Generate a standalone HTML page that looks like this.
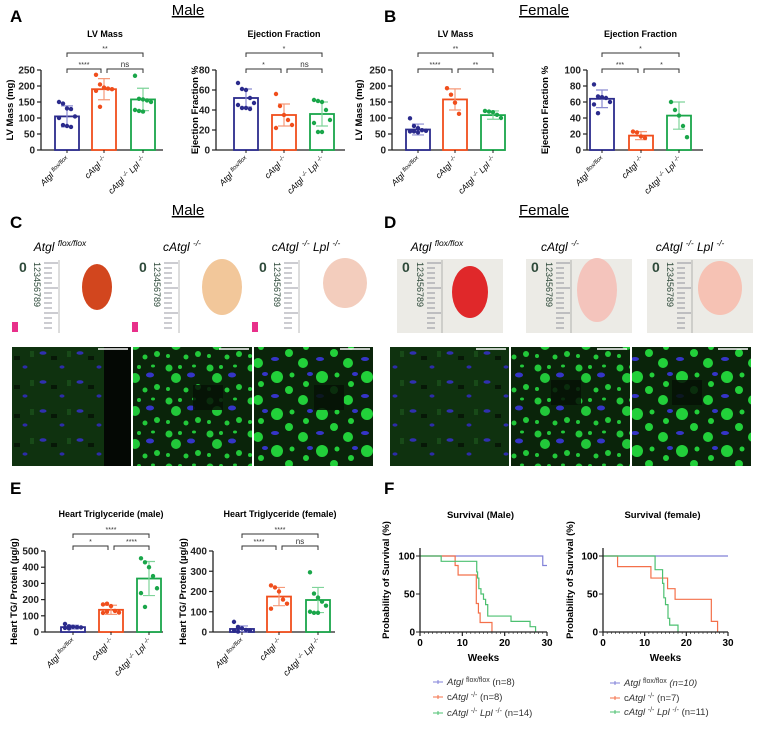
<!DOCTYPE html>
<html><head><meta charset="utf-8"><style>
html,body{margin:0;padding:0;background:#fff;}
svg{display:block;font-family:"Liberation Sans",Arial,sans-serif;}
</style></head><body>
<svg id="fig" width="759" height="729" viewBox="0 0 759 729" xmlns="http://www.w3.org/2000/svg">
<defs>
<pattern id="fl1" width="37" height="29" patternUnits="userSpaceOnUse"><rect width="37" height="29" fill="#0f320f"/><ellipse cx="6" cy="5" rx="3.5" ry="1.8" fill="#3030b0"/><ellipse cx="25" cy="19" rx="2.5" ry="1.6" fill="#2c2ca8"/><rect x="14" y="8" width="6" height="4" fill="#071807"/><rect x="30" y="3" width="4" height="6" fill="#184a18"/></pattern>
<pattern id="fl2" width="41" height="33" patternUnits="userSpaceOnUse"><rect width="41" height="33" fill="#0a240a"/><circle cx="5" cy="5" r="3.5" fill="#22c83a"/><circle cx="16" cy="4" r="2" fill="#22c83a"/><circle cx="12" cy="15" r="5" fill="#22c83a"/><ellipse cx="27" cy="12" rx="4" ry="2.5" fill="#3535c8"/><circle cx="34" cy="24" r="3" fill="#22c83a"/><circle cx="22" cy="27" r="2.5" fill="#22c83a"/><circle cx="4" cy="26" r="2" fill="#22c83a"/><ellipse cx="30" cy="3" rx="2" ry="1.5" fill="#22c83a"/></pattern>
<pattern id="fl3" width="45" height="37" patternUnits="userSpaceOnUse"><rect width="45" height="37" fill="#0a240a"/><circle cx="7" cy="7" r="6" fill="#22d03a"/><circle cx="22" cy="5" r="2.5" fill="#22d03a"/><circle cx="19" cy="20" r="4" fill="#22d03a"/><ellipse cx="5" cy="26" rx="4" ry="2" fill="#3535c8"/><circle cx="36" cy="14" r="3" fill="#22d03a"/><circle cx="33" cy="30" r="5" fill="#22d03a"/><ellipse cx="40" cy="4" rx="3" ry="2" fill="#3535c8"/></pattern>
</defs>
</svg>
<script>
// ---------- data ----------
const groupLabels = ['atgl','catgl','catgl-lpl'];
const lvMaleMeans = [105,190,158];
const lvMaleSd = [33,33,35];
const lvMalePts = [[150,145,130,128,105,100,78,75,72],[235,205,195,192,190,185,135],[232,160,158,155,150,125,122,120]];
const efMaleMeans = [52,35,36];
const efMaleSd = [9,11,12];
const efMalePts = [[67,61,60,52,47,45,42,42,41],[56,44,35,30,25,22],[50,49,48,40,30,27,18,18]];
const lvFemMeans = [64,158,109];
const lvFemSd = [17,33,13];
const lvFemPts = [[99,75,68,62,60,58,58,55],[193,173,148,113],[122,120,118,110,100]];
const efFemMeans = [64,18,43];
const efFemSd = [11,5,17];
const efFemPts = [[82,67,66,65,60,57,46],[23,22,17,15],[60,50,43,30,16]];
const tgMaleMeans = [30,137,330];
const tgMaleSd = [12,28,105];
const tgMalePts = [[50,35,32,30,28,25,22],[170,175,160,130,120,118,125],[455,430,400,345,270,240,155]];
const tgFemMeans = [15,175,158];
const tgFemSd = [15,45,62];
const tgFemPts = [[50,25,18,10,8,6,2],[230,220,200,160,140,115],[295,190,170,150,130,100,95,95]];
const ticks250 = [0,50,100,150,200,250];
const ticks80 = [0,20,40,60,80];
const ticks100 = [0,20,40,60,80,100];
const ticks500 = [0,100,200,300,400,500];
const ticks400 = [0,100,200,300,400];
const sigLvMale = ['**','****','ns'];
const sigEfMale = ['*','*','ns'];
const sigLvFem = ['**','****','**'];
const sigEfFem = ['*','***','*'];
const sigTgMale = ['****','*','****'];
const sigTgFem = ['****','****','ns'];
// survival steps: [time, percent]
const survMaleAtgl = [[0,100],[29,87.5],[30,87.5]];
const survMaleC = [[0,100],[8.3,87.5],[9,75],[13.3,37.5],[13.8,25],[14.2,12.5],[17,0]];
const survMaleCL = [[0,100],[5,93],[13.4,79],[13.6,71],[13.9,57],[14.4,50],[15,43],[15.5,36],[16,21],[21.5,14],[26,7],[27.3,0]];
const survFemAtgl = [[0,100],[30,100]];
const survFemC = [[0,100],[3.5,86],[11.5,71],[15.5,57],[17.3,43],[26,14],[27.5,0]];
const survFemCL = [[0,100],[12.5,82],[14.3,64],[14.6,45],[15,36],[15.6,18],[16,9],[18,0]];

const colors = ['#2b2b8c','#f04e1c','#1aa64a'];
const errColors = ['#8b8bd0','#f59a7a','#7fd49a'];
const kmColors = ['#8080d8','#f4704a','#4cc070'];

const NS='http://www.w3.org/2000/svg';
const svg=document.getElementById('fig');
function mk(tag,a,p){const e=document.createElementNS(NS,tag);for(const k in a)e.setAttribute(k,a[k]);(p||svg).appendChild(e);return e;}
function tx(s,x,y,a,p){const e=mk('text',Object.assign({x:x,y:y},a||{}),p);e.textContent=s;return e;}
function sup(e,s,size){const t=document.createElementNS(NS,'tspan');t.setAttribute('baseline-shift','super');t.setAttribute('font-size',size);t.textContent=s;e.appendChild(t);}
function normal(e,s,style){const t=document.createElementNS(NS,'tspan');if(style)t.setAttribute('font-style',style);t.textContent=s;e.appendChild(t);}

function groupLabel(p,i,x,y,fs,rot,bold){
  const t=mk('text',{x:x,y:y,'font-size':fs,'font-style':'italic','text-anchor':rot?'end':'middle','font-weight':bold?'bold':'normal',transform:rot?('rotate(-45 '+x+' '+y+')'):''},p);
  
  
  if(i===0){normal(t,'Atgl ');sup(t,'flox/flox',fs*0.7);}
  else if(i===1){normal(t,'cAtgl ');sup(t,'-/-',fs*0.7);}
  else {normal(t,'cAtgl ');sup(t,'-/-',fs*0.7);normal(t,' Lpl ');sup(t,'-/-',fs*0.7);}
  return t;
}

function barChart(c){
  const g=mk('g',{});
  
  
  const ys=v=>c.yb-(v/c.max)*(c.yb-c.yt);
  const t=tx(c.title,(c.cx[0]+c.cx[2])/2,c.ty,{'font-size':9,'font-weight':'bold','text-anchor':'middle'},g);
  
  
  const yt=tx(c.ytitle,0,0,{'font-size':9.5,'font-weight':'bold','text-anchor':'middle',transform:'translate('+c.ytx+' '+((c.yb+c.yt)/2)+') rotate(-90)'},g);
  
  
  const ya=mk('line',{x1:c.ax,y1:c.yt,x2:c.ax,y2:c.yb,stroke:'#222','stroke-width':1.3},g);
  
  
  const xa=mk('line',{x1:c.ax,y1:c.yb,x2:c.xe,y2:c.yb,stroke:'#222','stroke-width':1.3},g);
  
  
  c.ticks.forEach(v=>{
    mk('line',{x1:c.ax-4,y1:ys(v),x2:c.ax,y2:ys(v),stroke:'#222','stroke-width':1.2},g);
    const l=tx(String(v),c.ax-6,ys(v)+3.5,{'font-size':10,'font-weight':'bold','text-anchor':'end','fill':'#222'},g);
    
    
  });
  for(let i=0;i<3;i++){
    const x=c.cx[i];
    const r=mk('rect',{x:x-12,y:ys(c.means[i]),width:24,height:c.yb-ys(c.means[i]),fill:'#fff',stroke:colors[i],'stroke-width':1.8},g);
    
    
    const lo=ys(c.means[i]-c.sd[i]),hi=ys(c.means[i]+c.sd[i]);
    const eb=mk('path',{d:'M'+x+' '+lo+'V'+hi+'M'+(x-6)+' '+lo+'H'+(x+6)+'M'+(x-6)+' '+hi+'H'+(x+6),stroke:errColors[i],'stroke-width':1.2,fill:'none'},g);
    
    
    c.pts[i].forEach((v,j)=>{
      const off=((j%5)-2)*4;
      const p=mk('circle',{cx:x+off,cy:ys(v),r:2.2,fill:colors[i]},g);
      
      
    });
    mk('line',{x1:x,y1:c.yb,x2:x,y2:c.yb+3,stroke:'#222','stroke-width':1},g);
    groupLabel(g,i,x+3,c.yb+10,8.5,true,c.boldc);
  }
  const pairs=[[0,2,c.by1],[0,1,c.by2],[1,2,c.by2]];
  pairs.forEach((pr,k)=>{
    let x1=c.cx[pr[0]],x2=c.cx[pr[1]];
    if(k===1)x2-=3; if(k===2)x1+=3;
    const b=mk('path',{d:'M'+x1+' '+(pr[2]+4)+'V'+pr[2]+'H'+x2+'V'+(pr[2]+4),stroke:'#333','stroke-width':1,fill:'none'},g);
    
    
    const s=tx(c.sig[k],(x1+x2)/2,pr[2]-2,{'font-size':c.sig[k]==='ns'?8:7,'text-anchor':'middle','fill':'#333'},g);
    
    
  });
}

barChart({name:'lv-mass-male-chart',title:'LV Mass',ytitle:'LV Mass (mg)',ax:41,xe:163,yb:150,yt:70,max:250,ticks:ticks250,cx:[67,104,143],means:lvMaleMeans,sd:lvMaleSd,pts:lvMalePts,ty:37,ytx:13,by1:53,by2:69,sig:sigLvMale});
barChart({name:'ef-male-chart',title:'Ejection Fraction',ytitle:'Ejection  Fraction %',ax:216,xe:345,yb:150,yt:70,max:80,ticks:ticks80,cx:[246,284,322],means:efMaleMeans,sd:efMaleSd,pts:efMalePts,ty:37,ytx:198,by1:53,by2:69,sig:sigEfMale});
barChart({name:'lv-mass-female-chart',title:'LV Mass',ytitle:'LV Mass (mg)',ax:392,xe:505,yb:150,yt:70,max:250,ticks:ticks250,cx:[418,455,493],means:lvFemMeans,sd:lvFemSd,pts:lvFemPts,ty:37,ytx:362,by1:53,by2:69,sig:sigLvFem});
barChart({name:'ef-female-chart',title:'Ejection Fraction',ytitle:'Ejection  Fraction %',ax:587,xe:703,yb:150,yt:70,max:100,ticks:ticks100,cx:[602,641,679],means:efFemMeans,sd:efFemSd,pts:efFemPts,ty:37,ytx:548,by1:53,by2:69,sig:sigEfFem});
barChart({name:'tg-male-chart',title:'Heart Triglyceride (male)',ytitle:'Heart TG/ Protein (µg/g)',ax:45,xe:163,yb:632,yt:551,max:500,ticks:ticks500,cx:[73,111,149],means:tgMaleMeans,sd:tgMaleSd,pts:tgMalePts,ty:517,ytx:17,by1:534,by2:546,sig:sigTgMale,boldc:false});
barChart({name:'tg-female-chart',title:'Heart Triglyceride (female)',ytitle:'Heart TG/ Protein (µg/g)',ax:213,xe:335,yb:632,yt:551,max:400,ticks:ticks400,cx:[242,279,318],means:tgFemMeans,sd:tgFemSd,pts:tgFemPts,ty:517,ytx:186,by1:534,by2:546,sig:sigTgFem});

function kmChart(c){
  const g=mk('g',{});
  
  
  const xs=v=>c.ax+(v/30)*(c.xe-c.ax);
  const ys=v=>c.yb-(v/100)*(c.yb-c.yt);
  const t=tx(c.title,(c.ax+c.xe)/2-3,518,{'font-size':9.5,'font-weight':'bold','text-anchor':'middle'},g);
  
  
  const yt=tx('Probability of Survival (%)',0,0,{'font-size':9.5,'font-weight':'bold','text-anchor':'middle',transform:'translate('+c.ytx+' 580) rotate(-90)'},g);
  
  
  const xt=tx('Weeks',(c.ax+c.xe)/2,661,{'font-size':10,'font-weight':'bold','text-anchor':'middle'},g);
  
  
  c.series.forEach((s,i)=>{
    let d='M'+xs(s[0][0])+' '+ys(s[0][1]);
    for(let k=1;k<s.length;k++){d+='H'+xs(s[k][0])+'V'+ys(s[k][1]);}
    const p=mk('path',{d:d,stroke:kmColors[i],'stroke-width':1.2,fill:'none'},g);
    
    
  });
  const ya=mk('line',{x1:c.ax,y1:c.yt-8,x2:c.ax,y2:c.yb,stroke:'#222','stroke-width':1.3},g);
  
  
  const xa=mk('line',{x1:c.ax,y1:c.yb,x2:c.xe,y2:c.yb,stroke:'#222','stroke-width':1.3},g);
  
  
  [0,50,100].forEach(v=>{
    mk('line',{x1:c.ax-4,y1:ys(v),x2:c.ax,y2:ys(v),stroke:'#222'},g);
    const l=tx(String(v),c.ax-5,ys(v)+3.5,{'font-size':10,'font-weight':'bold','text-anchor':'end'},g);
    
    
  });
  for(let w=0;w<=30;w++){
    const big=w%10===0;
    mk('line',{x1:xs(w),y1:c.yb,x2:xs(w),y2:c.yb+(big?4:2),stroke:'#222','stroke-width':big?1.2:0.6},g);
    if(big){
      const l=tx(String(w),xs(w),c.yb+14,{'font-size':10,'font-weight':'bold','text-anchor':'middle'},g);
      
      
    }
  }
  c.leg.forEach((ly,i)=>{
    const lg=mk('g',{},g);
    
    
    mk('path',{d:'M'+c.lx+' '+(ly-3)+'h10M'+(c.lx+5)+' '+(ly-5)+'v4',stroke:kmColors[i],'stroke-width':1},lg);
    const tt=mk('text',{x:c.lx+14,y:ly,'font-size':9.5,fill:'#333'},lg);
    if(i===0){normal(tt,'Atgl ','italic');sup(tt,'flox/flox',7);normal(tt,c.n[0],c.italicN?'italic':null);}
    else if(i===1){normal(tt,'c');normal(tt,'Atgl ','italic');sup(tt,'-/-',7);normal(tt,c.n[1]);}
    else {normal(tt,'cAtgl ','italic');sup(tt,'-/-',7);normal(tt,' Lpl ','italic');sup(tt,'-/-',7);normal(tt,c.n[2]);}
  });
}
kmChart({name:'survival-male-chart',title:'Survival (Male)',ax:420,xe:547,yb:632,yt:556,ytx:389,series:[survMaleAtgl,survMaleC,survMaleCL],lx:433,leg:[685,700,716],n:[' (n=8)',' (n=8)',' (n=14)']});
kmChart({name:'survival-female-chart',title:'Survival (female)',ax:603,xe:728,yb:632,yt:556,ytx:573,series:[survFemAtgl,survFemC,survFemCL],lx:610,leg:[686,701,715],n:['  (n=10)',' (n=7)',' (n=11)'],italicN:true});

function head(s,x,y,fs,ul,name){
  const t=tx(s,x,y,{'font-size':fs,'font-weight':ul?'normal':'bold','text-anchor':ul?'middle':'start','text-decoration':ul?'underline':'none'});
  
  
}
head('A',10,22,17,false,'panel-label-a');
head('B',384,22,17,false,'panel-label-b');
head('C',10,228,17,false,'panel-label-c');
head('D',384,228,17,false,'panel-label-d');
head('E',10,494,17,false,'panel-label-e');
head('F',384,494,17,false,'panel-label-f');
head('Male',188,15,15,true,'male-heading-a');
head('Female',544,15,15,true,'female-heading-b');
head('Male',188,215,15,true,'male-heading-c');
head('Female',544,215,15,true,'female-heading-d');

const photoX=[[14,134,254],[397,526,647]];
const heartC=[[[97,287,15,23,'#d2461e'],[222,287,20,28,'#f2c79a'],[345,283,22,25,'#f3cdbd']],[[470,292,18,26,'#e0282a'],[597,290,20,32,'#f4c4bc'],[720,288,22,27,'#f6c2b4']]];
const photoLabelX=[[60,182,306],[437,560,690]];
for(let s=0;s<2;s++){
  for(let i=0;i<3;i++){
    const x=photoX[s][i];
    const g=mk('g',{});
    
    
    mk('rect',{x:x,y:259,width:s?106:115,height:74,fill:s?'#ecebe6':'#fff'},g);
    tx('0',x+5,272,{'font-size':14,'font-weight':'bold',fill:'#2e4a3a'},g);
    tx('123456789',0,0,{'font-size':9,fill:'#2e4a3a',transform:'translate('+(x+20)+' 262) rotate(90)'},g);
    for(let k=0;k<14;k++){mk('line',{x1:x+30,y1:263+k*5,x2:x+(k%5===0?44:38),y2:263+k*5,stroke:'#556','stroke-width':0.6},g);}
    mk('line',{x1:x+45,y1:260,x2:x+45,y2:333,stroke:'#777','stroke-width':0.5},g);
    if(!s)mk('rect',{x:x-2,y:322,width:6,height:10,fill:'#e8308a'},g);
    const h=heartC[s][i];
    mk('ellipse',{cx:h[0],cy:h[1],rx:h[2],ry:h[3],fill:h[4]},g);
    groupLabel(svg,i,photoLabelX[s][i],251,12,false,false);
  }
}
const fluoX=[[12,133,254],[390,511,632]];
const fluoFill=['url(#fl1)','url(#fl2)','url(#fl3)'];
for(let s=0;s<2;s++){
  for(let i=0;i<3;i++){
    const x=fluoX[s][i];
    const r=mk('rect',{x:x,y:347,width:119,height:119,fill:fluoFill[i]});
    
    
    if(i===0&&s===0)mk('rect',{x:x+92,y:347,width:27,height:119,fill:'#040804'});
    if(i>0)mk('rect',{x:x+(s?40:60),y:(s?380:385),width:30,height:25,fill:'#061206',opacity:0.85});
    const sb=mk('line',{x1:x+86,y1:349,x2:x+116,y2:349,stroke:'#fff','stroke-width':1.5});
    
    
  }
}
</script>
</body></html>
